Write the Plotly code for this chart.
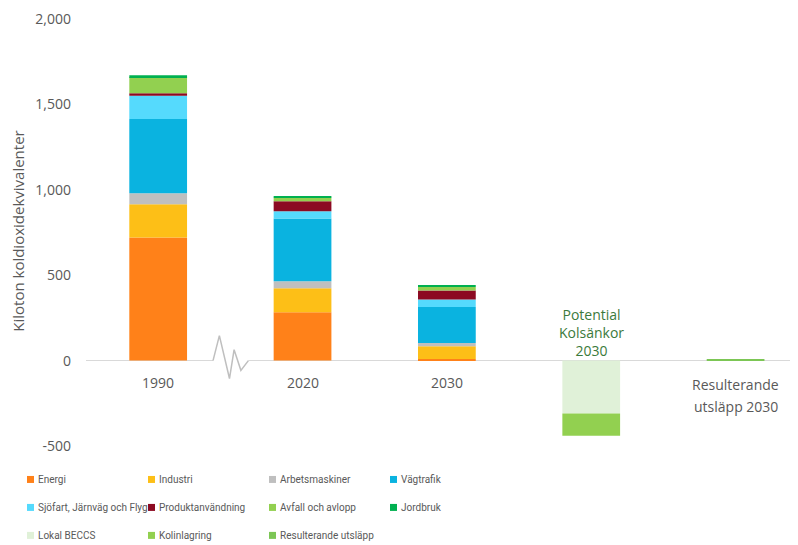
import plotly.graph_objects as go

# --- data (kiloton CO2e) ---
periods = ["1990", "2020", "2030"]
energi = [720, 283, 10]
industri = [195, 140, 74]
arbetsmaskiner = [65, 42, 19]
vagtrafik = [435, 367, 211]
sjofart = [135, 43, 43]
produktanvandning = [15, 58, 54]
avfall = [95, 20, 20]
jordbruk = [10, 10, 9]

sink_cat = "Potential Kolsänkor 2030"
result_cat = "Resulterande utsläpp 2030"
lokal_beccs = [-310]
kolinlagring = [-130]
resulterande = [10]

y_tickvals = [-500, 0, 500, 1000, 1500, 2000]
y_ticktext = ["-500", "0", "500", "1,000", "1,500", "2,000"]

categories = periods + [sink_cat, result_cat]

series = [
    ("Energi", periods, energi, "#FF8119"),
    ("Industri", periods, industri, "#FDBF17"),
    ("Arbetsmaskiner", periods, arbetsmaskiner, "#BFBFBF"),
    ("Vägtrafik", periods, vagtrafik, "#0AB3E0"),
    ("Sjöfart, Järnväg och Flyg", periods, sjofart, "#55DAFD"),
    ("Produktanvändning", periods, produktanvandning, "#8C0A22"),
    ("Avfall och avlopp", periods, avfall, "#92D050"),
    ("Jordbruk", periods, jordbruk, "#00B050"),
    ("Lokal BECCS", [sink_cat], lokal_beccs, "#E0F1D8"),
    ("Kolinlagring", [sink_cat], kolinlagring, "#92D050"),
    ("Resulterande utsläpp", [result_cat], resulterande, "#7CC655"),
]

W, H = 798, 545
PL, PR, PT, PB = 86, 790, 19, 446.5  # plot area in pixels


def px_x(px):
    return (px - PL) / (PR - PL)


def px_y(py):
    return (PB - py) / (PB - PT)


fig = go.Figure()
for name, xs, vals, color in series:
    fig.add_trace(go.Bar(
        x=xs, y=vals, name=name, marker=dict(color=color, line=dict(width=0)),
        width=0.4, showlegend=False,
    ))

tick_font = dict(family="Open Sans, Noto Sans, sans-serif", size=14, color="#595959")

annotations = []
# category labels under the zero line (positions are category indices)
for i, cat in enumerate(periods):
    annotations.append(dict(x=i, y=0, xref="x", yref="y", text=cat, showarrow=False,
                            yanchor="middle", yshift=-22, font=tick_font))
ri = categories.index(result_cat)
annotations.append(dict(x=ri, y=0, xref="x", yref="y", text="Resulterande",
                        showarrow=False, yanchor="middle", yshift=-24, font=tick_font))
annotations.append(dict(x=ri, y=0, xref="x", yref="y", text="utsläpp 2030",
                        showarrow=False, yanchor="middle", yshift=-46, font=tick_font))
# carbon sink label above the zero line
annotations.append(dict(x=categories.index(sink_cat), y=0, xref="x", yref="y",
                        text="Potential<br>Kolsänkor<br>2030", showarrow=False,
                        yanchor="middle", yshift=28,
                        font=dict(family="Open Sans, Noto Sans, sans-serif", size=14,
                                  color="#3B7A3B")))
# y-axis title
annotations.append(dict(x=px_x(18), y=px_y(232), xref="paper", yref="paper",
                        text="Kiloton koldioxidekvivalenter", textangle=-90,
                        showarrow=False, xanchor="center", yanchor="middle",
                        font=dict(family="Open Sans, Noto Sans, sans-serif", size=15,
                                  color="#595959")))

# legend drawn as swatches + text in a 4-column grid
shapes = []
col_x = [27, 148, 269, 390]
row_y = [480, 508, 536]
legend_font = dict(family="Roboto, Liberation Sans, sans-serif", size=10, color="#595959")
for i, (name, _, _, color) in enumerate(series):
    r, c = divmod(i, 4)
    x0 = col_x[c]
    yc = row_y[r]
    shapes.append(dict(type="rect", xref="paper", yref="paper",
                       x0=px_x(x0), x1=px_x(x0 + 7), y0=px_y(yc + 3.5), y1=px_y(yc - 3.5),
                       fillcolor=color, line=dict(width=0)))
    annotations.append(dict(x=px_x(x0 + 8.5), y=px_y(yc), xref="paper", yref="paper",
                            text=name, showarrow=False, xanchor="left", yanchor="middle",
                            font=legend_font))

# axis-break marker on the zero line between 1990 and 2020
mid = 0.5  # halfway between the first two categories
shapes.append(dict(type="line", xref="x", yref="y", x0=mid - 0.12, x1=mid + 0.125, y0=0, y1=0,
                   line=dict(color="white", width=3)))
zig = [(-0.12, 0), (-0.076, 146), (-0.006, -105), (0.026, 64), (0.073, -57), (0.125, 0)]
path = "M " + " L ".join(f"{mid + dx},{dy}" for dx, dy in zig)
shapes.append(dict(type="path", xref="x", yref="y", path=path,
                   line=dict(color="#BFBFBF", width=1.5)))

fig.update_layout(
    width=W, height=H,
    margin=dict(l=PL, r=W - PR, t=PT, b=H - PB),
    paper_bgcolor="white", plot_bgcolor="white",
    barmode="relative",
    showlegend=False,
    xaxis=dict(type="category", categoryorder="array", categoryarray=categories,
               range=[-0.5, 4.377], showticklabels=False, showgrid=False,
               zeroline=False, showline=False, ticks=""),
    yaxis=dict(range=[-500, 2000], tickvals=y_tickvals, ticktext=y_ticktext,
               showgrid=False, zeroline=True, zerolinecolor="#D9D9D9", zerolinewidth=1,
               showline=False, ticks="", tickfont=tick_font, ticklabelstandoff=14),
    annotations=annotations,
    shapes=shapes,
)

fig.write_html("out.html")
